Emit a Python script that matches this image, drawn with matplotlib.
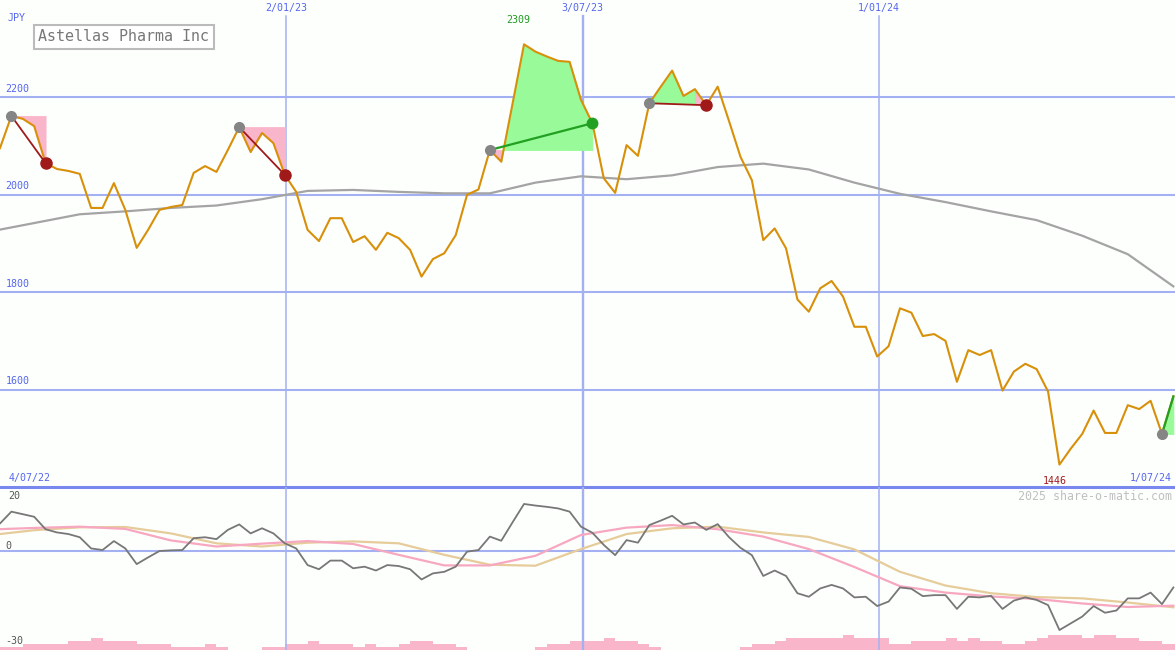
import matplotlib
matplotlib.use('Agg')
import matplotlib.pyplot as plt
import pandas as pd
import numpy as np

# weekly closes, Astellas Pharma (JPY)
dates = pd.date_range('2022-07-03', periods=105, freq='7D')
price = [2060, 2096, 2162, 2156, 2141, 2065, 2053, 2049, 2043, 1973,
         1973, 2024, 1969, 1891, 1928, 1969, 1975, 1979, 2045, 2059,
         2047, 2092, 2139, 2088, 2127, 2106, 2041, 2006, 1928, 1905,
         1952, 1952, 1903, 1915, 1887, 1922, 1911, 1887, 1832, 1868,
         1880, 1917, 2000, 2011, 2092, 2068, 2188, 2309, 2294, 2284,
         2275, 2273, 2195, 2147, 2034, 2004, 2102, 2080, 2188, 2222,
         2255, 2203, 2217, 2184, 2222, 2151, 2078, 2030, 1907, 1931,
         1890, 1785, 1760, 1808, 1823, 1791, 1729, 1729, 1668, 1689,
         1767, 1758, 1710, 1714, 1700, 1616, 1681, 1671, 1681, 1598,
         1637, 1653, 1642, 1596, 1446, 1479, 1509, 1557, 1511, 1511,
         1568, 1560, 1577, 1509, 1586]

# slow moving average, read every 4 weeks
ma_step = 4
ma_slow = [1924, 1942, 1960, 1966, 1973, 1978, 1991, 2008, 2010, 2006,
           2003, 2003, 2025, 2038, 2032, 2040, 2057, 2064, 2052, 2025,
           2002, 1985, 1966, 1948, 1916, 1878, 1812]

# lower panel oscillator
osc = [7.0, 8.6, 12.3, 11.5, 10.7, 6.8, 5.8, 5.3, 4.3, 0.8,
       0.3, 3.1, 0.8, -4.1, -2.0, 0.0, 0.2, 0.3, 4.0, 4.3,
       3.7, 6.6, 8.3, 5.5, 7.1, 5.5, 2.4, 0.8, -4.4, -5.7,
       -3.0, -3.0, -5.4, -4.9, -6.1, -4.4, -4.7, -5.7, -8.9, -7.0,
       -6.5, -4.9, -0.2, 0.3, 4.5, 3.2, 9.0, 14.7, 14.2, 13.8,
       13.3, 12.3, 7.6, 5.7, 1.9, -1.3, 3.4, 2.6, 8.1, 9.5,
       11.0, 8.3, 8.9, 6.6, 8.4, 4.3, 1.0, -1.3, -7.8, -6.1,
       -7.8, -13.2, -14.3, -11.7, -10.6, -11.7, -14.5, -14.3, -17.2, -15.8,
       -11.4, -11.8, -14.1, -13.8, -13.8, -18.1, -14.3, -14.5, -14.0, -18.1,
       -15.5, -14.5, -15.3, -16.9, -24.7, -22.6, -20.5, -17.2, -19.3, -18.6,
       -14.8, -14.8, -13.0, -16.6, -11.4]
osc_pink = [6.7, 7.2, 7.6, 6.9, 3.3, 1.4, 2.3, 3.1, 2.2, -1.2, -4.5, -4.5, -1.5, 5.0,
            7.3, 8.1, 6.8, 4.5, 0.6, -5.0, -11.0, -13.0, -14.2, -15.0, -16.4, -17.5, -17.1]
osc_tan = [4.9, 6.5, 7.4, 7.5, 5.5, 2.4, 1.4, 2.6, 3.0, 2.4, -1.2, -4.3, -4.6, 0.6,
           5.3, 7.1, 7.6, 5.8, 4.4, 0.5, -6.5, -10.8, -13.2, -14.4, -14.8, -16.1, -17.6]

# relative weekly volume levels
volume = [1, 1, 1, 2, 2, 2, 2, 3, 3, 4, 3, 3, 3, 2, 2, 2, 1, 1, 1, 2,
          1, 0, 0, 0, 1, 1, 2, 2, 3, 2, 2, 2, 1, 2, 1, 1, 2, 3, 3, 2,
          2, 1, 0, 0, 0, 0, 0, 0, 1, 2, 2, 3, 3, 3, 4, 3, 3, 2, 1, 0,
          0, 0, 0, 0, 0, 0, 1, 2, 2, 3, 4, 4, 4, 4, 4, 5, 4, 4, 4, 2,
          2, 3, 3, 3, 4, 3, 4, 3, 3, 2, 2, 3, 4, 5, 5, 5, 4, 5, 5, 4,
          4, 3, 3, 2, 2]

# trade signals: (start week, end week, still open)
signals = [(2, 5, False), (22, 26, False), (44, 53, False), (58, 63, False), (103, 104, True)]

price_ticks = [1600, 1800, 2000, 2200]
grid_dates = ['2023-01-02', '2023-07-03', '2024-01-01']
grid_labels = ['2/01/23', '3/07/23', '1/01/24']
start_label, end_label = '4/07/22', '1/07/24'
title = 'Astellas Pharma Inc'

W, H = 1175, 650
bg = '#fdfffd'
gridc = '#a3b1f2'
blue_txt = '#5566ee'
mono = 'DejaVu Sans Mono'

fig = plt.figure(figsize=(W / 100, H / 100), dpi=100, facecolor=bg)
low_h = 163
ax = fig.add_axes([0, low_h / H, 1, 1 - low_h / H])
axv = fig.add_axes([0, 0, 1, low_h / H])
ax2 = fig.add_axes([0, 0, 1, low_h / H])
for a in (ax, ax2, axv):
    a.set_axis_off()
    a.set_xlim(pd.Timestamp('2022-07-10'), pd.Timestamp('2024-07-01'))
ax.set_ylim(1400, 2400)
ax2.set_ylim(-30.94, 20)
axv.set_ylim(0, low_h)

# grid
for v in price_ticks:
    ax.axhline(v, color=gridc, lw=1.5, zorder=1)
    ax.annotate(str(v), xy=(0, v), xycoords=('axes fraction', 'data'), xytext=(4, 2.5),
                textcoords='offset points', fontsize=7.2, family=mono, color=blue_txt,
                ha='left', va='bottom')
for d, lab in zip(grid_dates, grid_labels):
    lw = 1.7 if lab == '3/07/23' else 1.1
    ax.axvline(pd.Timestamp(d), ymin=0, ymax=1 - 16 / 487, color=gridc, lw=lw, zorder=1)
    ax2.axvline(pd.Timestamp(d), color=gridc, lw=lw, zorder=1)
    ax.text(pd.Timestamp(d), 1 - 3 / 487, lab, transform=ax.get_xaxis_transform(),
            ha='center', va='top', fontsize=7.2, family=mono, color=blue_txt)
ax.axhline(1400, color='#7888ee', lw=2.2, clip_on=False, zorder=3)
ax2.axhline(0, color=gridc, lw=1.5, zorder=1)

# signal shading
green_fill, pink_fill = '#98fa98', '#f9b6ca'
for s, e, is_open in signals:
    level = price[s]
    for k in range(s, e):
        c = green_fill if price[k + 1] >= level else pink_fill
        ax.fill_between(dates[k:k + 2], level, price[k:k + 2], facecolor=c,
                        edgecolor=c, lw=0.6, zorder=2)

# moving average and price
ax.plot(dates[::ma_step], ma_slow, color='#a4a4a4', lw=1.6, zorder=3)
ax.plot(dates, price, color='#d8900a', lw=1.5, zorder=4)

for s, e, is_open in signals:
    gain = price[e] >= price[s]
    lc = '#22a022' if gain else '#a01a1a'
    ax.plot([dates[s], dates[e]], [price[s], price[e]], color=lc, lw=1.3 if not gain else 1.6, zorder=5)
    ax.plot(dates[s], price[s], 'o', color='#858585', ms=7, zorder=6)
    if not is_open:
        ax.plot(dates[e], price[e], 'o', color=lc, ms=8 if not gain else 7.5, zorder=6)

# high / low
hi = int(np.argmax(price))
lo = int(np.argmin(price))
ax.annotate(str(price[hi]), xy=(dates[hi], price[hi]), xytext=(-4, 14), textcoords='offset points',
            ha='center', va='bottom', fontsize=7.2, family=mono, color='#229922')
ax.annotate(str(price[lo]), xy=(dates[lo], price[lo]), xytext=(-3.5, -8), textcoords='offset points',
            ha='center', va='top', fontsize=7.2, family=mono, color='#a01a1a')

ax.text(0.007, 0.008, start_label, transform=ax.transAxes, ha='left', va='bottom',
        fontsize=7.2, family=mono, color=blue_txt)
ax.text(0.997, 0.008, end_label, transform=ax.transAxes, ha='right', va='bottom',
        fontsize=7.2, family=mono, color=blue_txt)
fig.text(8 / W, 1 - 18 / H, 'JPY', ha='left', va='center', fontsize=7.2, family=mono, color=blue_txt)
fig.text(38 / W, 1 - 36.5 / H, title, ha='left', va='center', fontsize=10.8, family=mono,
         color='#777777',
         bbox=dict(boxstyle='square,pad=0.3', fc='white', ec='#bbbbbb', lw=1.5))

# lower panel
axv.bar(dates, [3 * v for v in volume], width=7, align='edge', color='#f9b6ca', lw=0)
ax2.plot(dates[::ma_step], osc_tan, color='#e6cc9a', lw=1.6, zorder=3)
ax2.plot(dates[::ma_step], osc_pink, color='#f7a8c0', lw=1.6, zorder=3)
ax2.plot(dates, osc, color='#777777', lw=1.3, zorder=4)

fig.text(8 / W, 1 - 496 / H, '20', ha='left', va='center', fontsize=7.2, family=mono, color='#555555')
fig.text(5 / W, 1 - 546 / H, '0', ha='left', va='center', fontsize=7.2, family=mono, color='#555555')
fig.text(5 / W, 1 - 641 / H, '-30', ha='left', va='center', fontsize=7.2, family=mono, color='#555555')
fig.text(1172 / W, 1 - 496 / H, '2025 share-o-matic.com', ha='right', va='center', fontsize=8.4,
         family=mono, color='#c0c0c0')

fig.savefig('out.png', dpi=100, facecolor=bg)
